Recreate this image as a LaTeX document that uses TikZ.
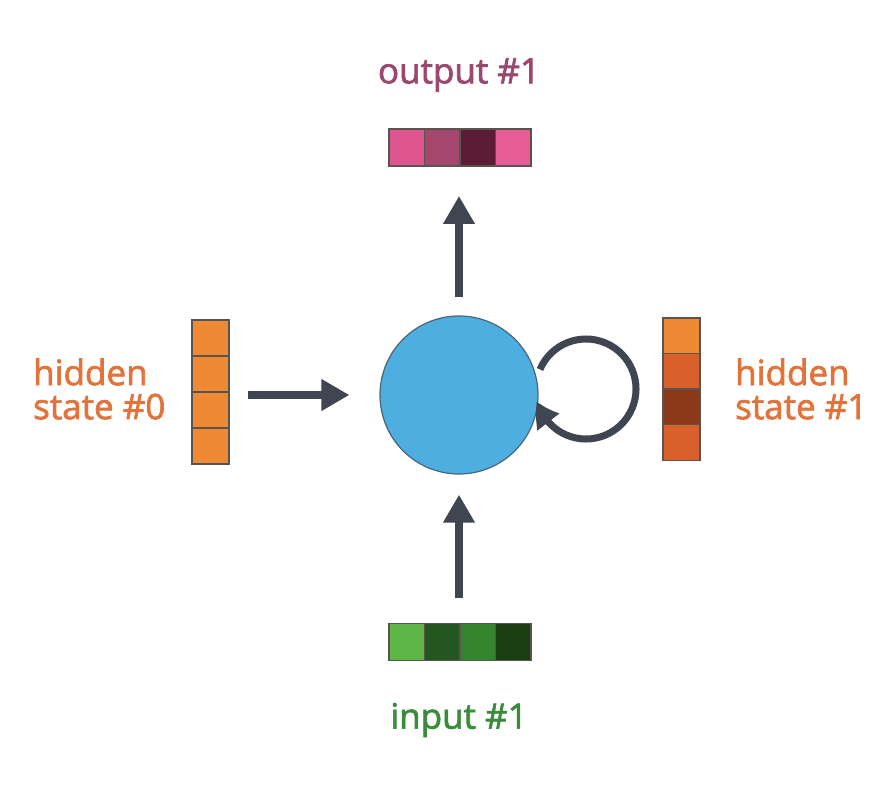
\documentclass[tikz,border=0pt]{standalone}
\usepackage{fontspec}
\setmainfont{Open Sans}[FakeBold=2]
\usetikzlibrary{arrows.meta,bending,fit,calc}
\definecolor{arrowgray}{HTML}{3F4651}
\definecolor{rnnblue}{HTML}{4EAEE0}
\definecolor{rnnedge}{HTML}{4A6577}
\definecolor{celledge}{HTML}{5A5450}
\definecolor{outtext}{HTML}{9B4770}
\definecolor{intext}{HTML}{3B8C3A}
\definecolor{hidtext}{HTML}{E2733A}
\definecolor{oA}{HTML}{DE5590}
\definecolor{oB}{HTML}{A3476E}
\definecolor{oC}{HTML}{5B1C36}
\definecolor{oD}{HTML}{E85D97}
\definecolor{iA}{HTML}{5DB546}
\definecolor{iB}{HTML}{24561F}
\definecolor{iC}{HTML}{33842E}
\definecolor{iD}{HTML}{1A3E12}
\definecolor{hA}{HTML}{EE8A35}
\definecolor{hB}{HTML}{D9602A}
\definecolor{hC}{HTML}{8A3A1A}
\tikzset{
  hcell/.style={rectangle, draw=celledge, line width=1.5pt, minimum width=35.5pt, minimum height=37pt, inner sep=0pt, fill=#1},
  vcell/.style={rectangle, draw=celledge, line width=1.5pt, minimum width=37pt, minimum height=36pt, inner sep=0pt, fill=#1},
  flow/.style={draw=arrowgray, line width=8pt, -{Triangle[length=28pt,width=30pt]}},
  looparrow/.style={draw=arrowgray, line width=7pt, -{Triangle[length=24pt,width=26pt,bend]}},
  lbl/.style={font=\fontsize{35}{34}\selectfont, inner sep=0pt},
  barfit/.style={inner sep=0pt, draw=none}
}
\begin{document}
\begin{tikzpicture}[x=1pt,y=1pt]
\useasboundingbox (0,0) rectangle (895,-798);
% RNN cell
\node[circle, fill=rnnblue, draw=rnnedge, line width=1.2pt, minimum size=158pt, inner sep=0pt] (rnn) at (459,-395) {};
% output bar
\node[hcell=oA] (o1) at (406.75,-147.5) {};
\node[hcell=oB] (o2) at (442.25,-147.5) {};
\node[hcell=oC] (o3) at (477.75,-147.5) {};
\node[hcell=oD] (o4) at (513.25,-147.5) {};
\node[barfit, fit=(o1)(o4)] (outbar) {};
\node[lbl, text=outtext] (outlbl) at (459,-75) {output \#1};
% input bar
\node[hcell=iA] (i1) at (406.75,-642) {};
\node[hcell=iB] (i2) at (442.25,-642) {};
\node[hcell=iC] (i3) at (477.75,-642) {};
\node[hcell=iD] (i4) at (513.25,-642) {};
\node[barfit, fit=(i1)(i4)] (inbar) {};
\node[lbl, text=intext] (inlbl) at (459,-720) {input \#1};
% hidden state 0
\node[vcell=hA] (a1) at (210.5,-338) {};
\node[vcell=hA] (a2) at (210.5,-374) {};
\node[vcell=hA] (a3) at (210.5,-410) {};
\node[vcell=hA] (a4) at (210.5,-446) {};
\node[barfit, fit=(a1)(a4)] (hbar0) {};
\node[lbl, text=hidtext, align=left, anchor=west] (h0lbl) at (33,-389) {hidden\\state \#0};
% hidden state 1
\node[vcell=hA] (b1) at (681.5,-335.75) {};
\node[vcell=hB] (b2) at (681.5,-371.25) {};
\node[vcell=hC] (b3) at (681.5,-406.75) {};
\node[vcell=hB] (b4) at (681.5,-442.25) {};
\node[barfit, fit=(b1)(b4)] (hbar1) {};
\node[lbl, text=hidtext, align=left, anchor=west] (h1lbl) at (735,-389) {hidden\\state \#1};
% connectors
\draw[flow, shorten <=18pt, shorten >=29pt] (rnn.north) -- (rnn.north |- outbar.south);
\draw[flow, shorten <=25pt, shorten >=20pt] (rnn.south |- inbar.north) -- (rnn.south);
\draw[flow, shorten <=18pt, shorten >=30pt] (hbar0.east |- rnn.west) -- (rnn.west);
% recurrent loop
\coordinate (loopc) at (586,-389);
\draw[looparrow] ($(loopc)+(157:50)$) arc[start angle=157, end angle=-166, radius=50];
\end{tikzpicture}
\end{document}
